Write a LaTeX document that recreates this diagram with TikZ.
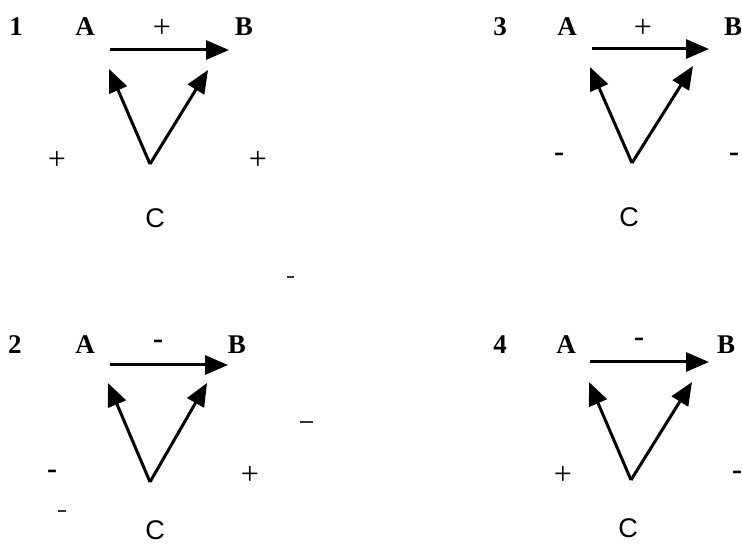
\documentclass[tikz,border=0pt]{standalone}
\usepackage{fontspec}
\setmainfont{Liberation Serif}
\newfontfamily\csans{Liberation Sans}
\usetikzlibrary{arrows.meta}
\tikzset{
  lbl/.style={font=\bfseries\fontsize{27}{27}\selectfont, inner sep=0pt, anchor=center},
  sgn/.style={font=\fontsize{32}{32}\selectfont, inner sep=0pt, anchor=center},
  mns/.style={font=\bfseries\fontsize{30}{30}\selectfont, inner sep=0pt, anchor=center},
  clbl/.style={font=\csans\fontsize{27}{27}\selectfont, inner sep=0pt, anchor=center},
  arr/.style={line width=3pt, -{Triangle[length=23pt,width=19pt]}},
  noise/.style={line width=2pt, draw=black!80}
}
\begin{document}
\begin{tikzpicture}[x=1pt,y=-1pt]
\useasboundingbox (0,0) rectangle (742,545);
% ---------- panel 1 ----------
\node[lbl] (n1) at (16,27) {1};
\node[lbl] (a1) at (85,27) {A};
\node[sgn] (s1) at (162,28) {+};
\node[lbl] (b1) at (244,27) {B};
\coordinate (h1s) at (110,50);
\coordinate (h1e) at (229,50);
\coordinate (v1) at (150,164);
\coordinate (l1) at (109,69);
\coordinate (r1) at (208,70);
\draw[arr] (h1s) -- (h1e);
\draw[arr] (v1) -- (l1);
\draw[arr] (v1) -- (r1);
\node[sgn] (p1l) at (57,160) {+};
\node[sgn] (p1r) at (258,160) {+};
\node[clbl] (c1) at (155,218) {C};
% ---------- panel 3 ----------
\node[lbl] (n3) at (500,27) {3};
\node[lbl] (a3) at (567,27) {A};
\node[sgn] (s3) at (643,28) {+};
\node[lbl] (b3) at (733,27) {B};
\coordinate (h3s) at (592,49);
\coordinate (h3e) at (709,49);
\coordinate (v3) at (632,163);
\coordinate (l3) at (590,67);
\coordinate (r3) at (693,66);
\draw[arr] (h3s) -- (h3e);
\draw[arr] (v3) -- (l3);
\draw[arr] (v3) -- (r3);
\node[mns] (m3l) at (559,157) {-};
\node[mns] (m3r) at (734,157) {-};
\node[clbl] (c3) at (629,217) {C};
% ---------- panel 2 ----------
\node[lbl] (n2) at (15,345) {2};
\node[lbl] (a2) at (85,345) {A};
\node[mns] (s2) at (158,344) {-};
\node[lbl] (b2) at (237,345) {B};
\coordinate (h2s) at (110,365);
\coordinate (h2e) at (228,365);
\coordinate (v2) at (150,482);
\coordinate (l2) at (108,383);
\coordinate (r2) at (207,383);
\draw[arr] (h2s) -- (h2e);
\draw[arr] (v2) -- (l2);
\draw[arr] (v2) -- (r2);
\node[mns] (m2l) at (52,474) {-};
\node[sgn] (p2r) at (250,475) {+};
\node[clbl] (c2) at (155,530) {C};
% ---------- panel 4 ----------
\node[lbl] (n4) at (500,345) {4};
\node[lbl] (a4) at (566,345) {A};
\node[mns] (s4) at (639,342) {-};
\node[lbl] (b4) at (726,345) {B};
\coordinate (h4s) at (590,362);
\coordinate (h4e) at (709,362);
\coordinate (v4) at (631,480);
\coordinate (l4) at (589,382);
\coordinate (r4) at (692,382);
\draw[arr] (h4s) -- (h4e);
\draw[arr] (v4) -- (l4);
\draw[arr] (v4) -- (r4);
\node[sgn] (p4l) at (563,475) {+};
\node[mns] (m4r) at (737,475) {-};
\node[clbl] (c4) at (628,528) {C};
% ---------- stray marks ----------
\draw[noise] (287,277) -- (294,277);
\draw[noise] (300,422) -- (313,422);
\draw[noise] (58,511) -- (66,511);
\end{tikzpicture}
\end{document}
